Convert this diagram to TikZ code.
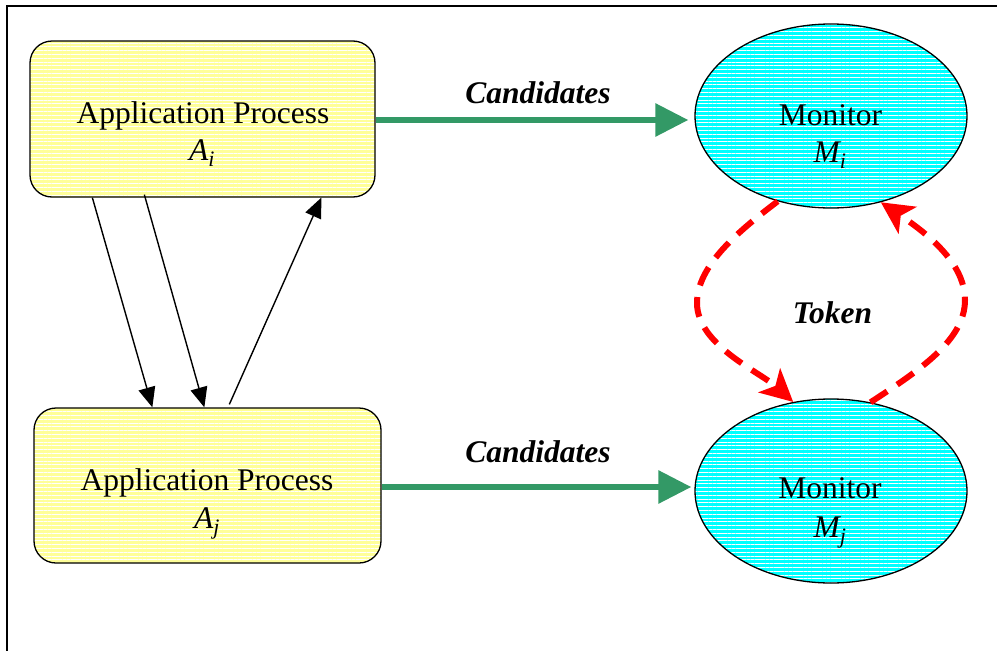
\documentclass[tikz,border=0pt]{standalone}
\usepackage{fontspec}
\setmainfont{Liberation Serif}
\usetikzlibrary{shapes.geometric,arrows.meta,patterns.meta,calc}
\definecolor{ylw}{HTML}{FFFF99}
\definecolor{cyn}{HTML}{00FFFF}
\definecolor{grn}{HTML}{339966}
\definecolor{tokred}{HTML}{FF0000}
\begin{document}
\begin{tikzpicture}[x=1pt,y=-1pt,
  font=\fontsize{31.5}{37}\selectfont,
  stripes/.style={pattern={Lines[angle=0,distance=3.8pt,line width=0.9pt]}, pattern color=white},
  procbox/.style={draw, line width=1.3pt, rounded corners=22pt, inner sep=0pt,
    preaction={fill=ylw}, preaction={stripes}},
  monitor/.style={ellipse, draw, line width=1.3pt, inner sep=0pt,
    minimum width=272pt, minimum height=184pt,
    preaction={fill=cyn}, preaction={stripes}},
  txt/.style={anchor=base, inner sep=0pt},
  lbl/.style={anchor=base, inner sep=0pt, font=\fontsize{31.5}{37}\selectfont\bfseries\itshape},
  msg/.style={line width=1.4pt, -{Triangle[length=20pt,width=17pt]}},
  cand/.style={draw=grn, line width=6pt, -{Triangle[length=33pt,width=32pt]}},
  tok/.style={draw=tokred, line width=6pt, dash pattern=on 20pt off 12pt,
    -{Stealth[length=32pt,width=32pt,inset=8pt]}}
]
\useasboundingbox (0,0) rectangle (997,651);
\draw[line width=1.5pt] (7,651) -- (7,6) -- (997,6);

% boxes
\node[procbox, minimum width=345pt, minimum height=156pt] (Ai) at (202.5,119) {};
\node[procbox, minimum width=347pt, minimum height=155pt] (Aj) at (207.5,485.5) {};
\node[monitor] (Mi) at (831,116) {};
\node[monitor] (Mj) at (831,491) {};

% texts
\node[txt] (tAi) at (203,123) {Application Process};
\node[txt] (sAi) at (202,160) {\itshape A\textsubscript{i}};
\node[txt] (tAj) at (207,490) {Application Process};
\node[txt] (sAj) at (207,528) {\itshape A\textsubscript{j}};
\node[txt] (tMi) at (830.5,125) {Monitor};
\node[txt] (sMi) at (830,162) {\itshape M\textsubscript{i}};
\node[txt] (tMj) at (830,498) {Monitor};
\node[txt] (sMj) at (830,537) {\itshape M\textsubscript{j}};
\node[lbl] (c1) at (538,103) {Candidates};
\node[lbl] (c2) at (538,462) {Candidates};
\node[lbl] (tk) at (832.5,323) {Token};

% message arrows
\draw[msg] ($(Ai.south west)+(63,0)$) -- ($(Aj.north west)+(119,0)$);
\draw[msg] ($(Ai.south west)+(115,-3)$) -- ($(Aj.north west)+(171,0)$);
\draw[msg] ($(Aj.north west)+(196,-3)$) -- ($(Ai.south west)+(292,0)$);

% candidates arrows
\draw[cand, shorten >=6pt] ($(Ai.east)+(0,1)$) -- ($(Ai.east -| Mi.west)+(0,1)$);
\draw[cand, shorten >=3pt] ($(Aj.east)+(0,1.5)$) -- ($(Aj.east -| Mj.west)+(0,1.5)$);

% token
\draw[tok] (Mi.238) .. controls (740,230) and (697,265) .. (697,303)
  .. controls (697,345) and (760,372) .. (Mj.113);
\draw[tok] (Mj.66) .. controls (920,370) and (965,340) .. (965,300)
  .. controls (965,262) and (925,232) .. (Mi.300);
\end{tikzpicture}
\end{document}
